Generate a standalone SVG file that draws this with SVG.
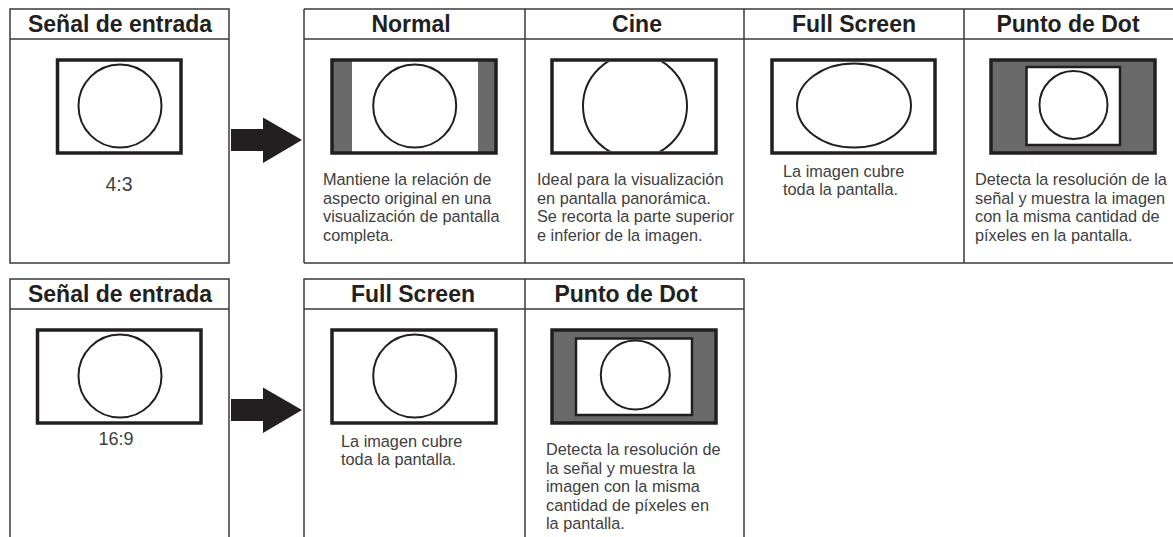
<svg xmlns="http://www.w3.org/2000/svg" width="1173" height="537" viewBox="0 0 1173 537">
<style>
.frame{fill:none;stroke:#3a3a3a;stroke-width:1.5}
.scr{fill:#fff;stroke:#231f20;stroke-width:3.5}
.scro{fill:none;stroke:#231f20;stroke-width:3.5}
.scrg{fill:#6a6a6a;stroke:#231f20;stroke-width:3.5}
.inner{fill:#fff;stroke:#231f20;stroke-width:2.5}
.shape{fill:none;stroke:#231f20;stroke-width:2}
.bar{fill:#6a6a6a}
.hd{font-family:"Liberation Sans",Arial,sans-serif;font-weight:bold;font-size:23px;fill:#231f20;text-anchor:middle}
.tx{font-family:"Liberation Sans",Arial,sans-serif;font-size:16.3px;fill:#404040}
.ratio{font-family:"Liberation Sans",Arial,sans-serif;font-size:18px;fill:#404040;text-anchor:middle}
.arrow{fill:#231f20}
</style>
<defs>
<clipPath id="cineclip"><rect x="553.75" y="61.75" width="160.5" height="89.5"/></clipPath>
</defs>
<rect width="1173" height="537" fill="#fff"/>

<g id="input-43">
<rect class="frame" x="10" y="9" width="219" height="254"/>
<line class="frame" x1="10" y1="39" x2="229" y2="39"/>
<text class="hd" x="120" y="32">Señal de entrada</text>
<rect class="scr" x="57.5" y="60" width="123.5" height="93"/>
<circle class="shape" cx="120" cy="106" r="41.5"/>
<text class="ratio" x="119" y="191" style="font-size:19.5px">4:3</text>
</g>

<g id="panel-top">
<line class="frame" x1="304" y1="9" x2="1173" y2="9"/>
<line class="frame" x1="304" y1="39" x2="1173" y2="39"/>
<line class="frame" x1="304" y1="263" x2="1173" y2="263"/>
<line class="frame" x1="304" y1="9" x2="304" y2="263"/>
<line class="frame" x1="525" y1="9" x2="525" y2="263"/>
<line class="frame" x1="744" y1="9" x2="744" y2="263"/>
<line class="frame" x1="964" y1="9" x2="964" y2="263"/>
</g>

<g id="normal">
<text class="hd" x="411" y="32">Normal</text>
<rect class="bar" x="332" y="60" width="20" height="93"/>
<rect class="bar" x="478" y="60" width="18" height="93"/>
<rect class="scro" x="332" y="60" width="164" height="93"/>
<circle class="shape" cx="414.7" cy="106" r="41.5"/>
<text class="tx" x="323" y="185">Mantiene la relación de</text>
<text class="tx" x="323" y="203.5">aspecto original en una</text>
<text class="tx" x="323" y="222">visualización de pantalla</text>
<text class="tx" x="323" y="240.5">completa.</text>
</g>

<g id="cine">
<text class="hd" x="637" y="32">Cine</text>
<rect class="scr" x="552" y="60" width="164" height="93"/>
<circle class="shape" cx="635" cy="106" r="52" clip-path="url(#cineclip)"/>
<text class="tx" x="537" y="185">Ideal para la visualización</text>
<text class="tx" x="537" y="203.5">en pantalla panorámica.</text>
<text class="tx" x="537" y="222">Se recorta la parte superior</text>
<text class="tx" x="537" y="240.5">e inferior de la imagen.</text>
</g>

<g id="fullscreen-top">
<text class="hd" x="854" y="32">Full Screen</text>
<rect class="scr" x="772" y="60" width="163" height="93"/>
<ellipse class="shape" cx="854" cy="105.5" rx="57" ry="42"/>
<text class="tx" x="783" y="177">La imagen cubre</text>
<text class="tx" x="783" y="195">toda la pantalla.</text>
</g>

<g id="dot-top">
<text class="hd" x="1068" y="32">Punto de Dot</text>
<rect class="scrg" x="991" y="60" width="164" height="93"/>
<rect class="inner" x="1026.5" y="67" width="93.5" height="78"/>
<circle class="shape" cx="1073.5" cy="105" r="34"/>
<text class="tx" x="975" y="185">Detecta la resolución de la</text>
<text class="tx" x="975" y="203.5">señal y muestra la imagen</text>
<text class="tx" x="975" y="222">con la misma cantidad de</text>
<text class="tx" x="975" y="240.5">píxeles en la pantalla.</text>
</g>

<g id="input-169">
<polyline class="frame" points="10,537 10,279 229,279 229,537"/>
<line class="frame" x1="10" y1="309" x2="229" y2="309"/>
<text class="hd" x="120" y="302">Señal de entrada</text>
<rect class="scr" x="37.5" y="330" width="163.5" height="93"/>
<circle class="shape" cx="120" cy="376" r="41.5"/>
<text class="ratio" x="116" y="445">16:9</text>
</g>

<g id="panel-bottom">
<polyline class="frame" points="304,537 304,279 744,279 744,537"/>
<line class="frame" x1="304" y1="309" x2="744" y2="309"/>
<line class="frame" x1="525" y1="279" x2="525" y2="537"/>
</g>

<g id="fullscreen-bottom">
<text class="hd" x="413" y="302">Full Screen</text>
<rect class="scr" x="332" y="330" width="164" height="93"/>
<circle class="shape" cx="414.7" cy="376" r="41.5"/>
<text class="tx" x="341" y="446.5">La imagen cubre</text>
<text class="tx" x="341" y="465">toda la pantalla.</text>
</g>

<g id="dot-bottom">
<text class="hd" x="626" y="302">Punto de Dot</text>
<rect class="scrg" x="552" y="330" width="164" height="93"/>
<rect class="inner" x="576" y="338.5" width="116" height="76.5"/>
<circle class="shape" cx="635.3" cy="375" r="34.5"/>
<text class="tx" x="546" y="455">Detecta la resolución de</text>
<text class="tx" x="546" y="473.5">la señal y muestra la</text>
<text class="tx" x="546" y="492">imagen con la misma</text>
<text class="tx" x="546" y="510.5">cantidad de píxeles en</text>
<text class="tx" x="546" y="529">la pantalla.</text>
</g>

<g id="connectors">
<polygon class="arrow" points="231,129 263,129 263,117.5 302,140 263,163 263,151 231,151"/>
<polygon class="arrow" points="231,399 263,399 263,387.5 302,410 263,433 263,421 231,421"/>
</g>
</svg>
